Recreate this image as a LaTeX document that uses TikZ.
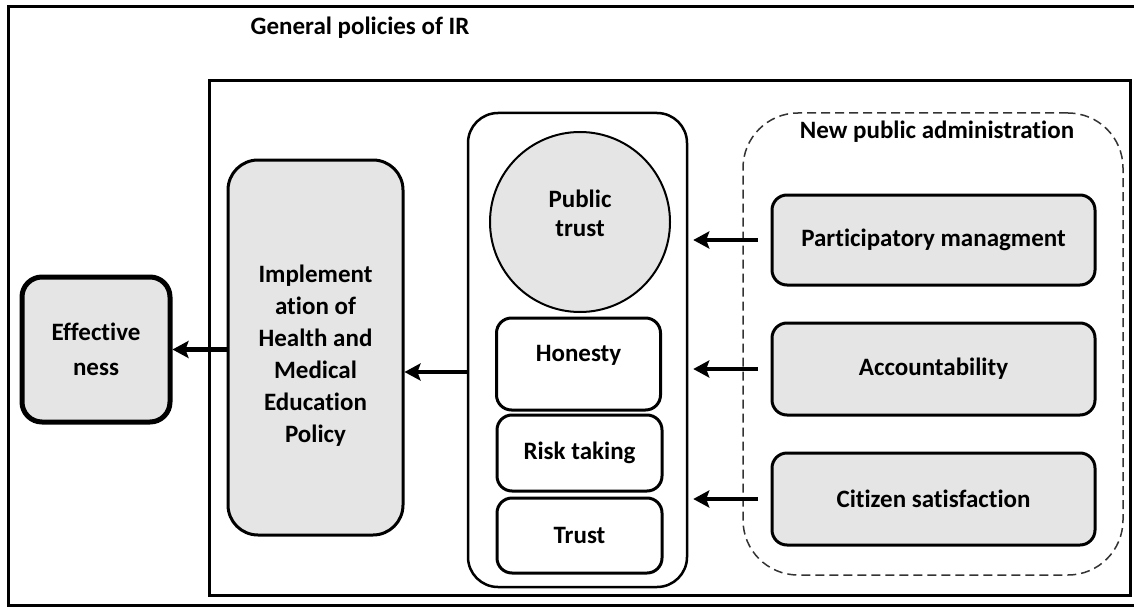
\documentclass[tikz,border=0pt]{standalone}
\usepackage{fontspec}
\setmainfont{Carlito}[Ligatures=NoCommon]
\usetikzlibrary{arrows.meta}

\begin{document}
\begin{tikzpicture}[x=1pt,y=-1pt,
  every node/.style={font=\bfseries\fontsize{25}{32}\selectfont, align=center},
  graybox/.style={draw, fill=gray!20, rounded corners=15pt, line width=3pt},
  whitebox/.style={draw, fill=white, rounded corners=15pt, line width=3pt},
  arr/.style={line width=4.5pt, -{Stealth[length=16pt,width=17pt,inset=3pt]}}]
\useasboundingbox (0,0) rectangle (1134,607);
% frames
\draw[line width=3pt] (1134,7) -- (8,7) -- (8,605) -- (1134,605);
\draw[line width=3pt] (209,81) rectangle (1130,595);
\node (title) at (360,28) {General policies of IR};
% new public administration
\node (npa) at (933,344) [draw=black!80, line width=1.5pt, dash pattern=on 9pt off 5pt, rounded corners=55pt, minimum width=380pt, minimum height=462pt] {};
\node (npatitle) at (937,132) {New public administration};
\node (part) at (933.5,240) [graybox, minimum width=323pt, minimum height=90pt] {Participatory managment};
\node (acc) at (933.5,369) [graybox, minimum width=323pt, minimum height=92pt] {Accountability};
\node (cit) at (933.5,499) [graybox, minimum width=323pt, minimum height=92pt] {Citizen satisfaction};
% trust
\node (mid) at (577.5,350) [draw, line width=2.5pt, rounded corners=30pt, minimum width=219pt, minimum height=474pt] {};
\node (pub) at (580,222) [circle, draw, fill=gray!20, line width=2pt, minimum size=180pt] {Public\\[-3pt]trust\\[-14pt]};
\node (hon) at (578.5,364) [whitebox, minimum width=164pt, minimum height=92pt] {Honesty\\[-10pt]};
\node (risk) at (579.5,453) [whitebox, minimum width=165pt, minimum height=76pt] {Risk taking};
\node (tru) at (579.5,535.5) [whitebox, minimum width=165pt, minimum height=75pt] {Trust};
% policy and outcome
\node (impl) at (315.5,347.5) [graybox, rounded corners=30pt, minimum width=175pt, minimum height=375pt] {\\[2pt]Implement\\ation of\\Health and\\Medical\\Education\\Policy};
\node (eff) at (96,349.5) [graybox, rounded corners=20pt, line width=5pt, minimum width=148pt, minimum height=145pt] {Effective\\[3pt]ness};
% arrows
\draw[arr] (impl.west |- eff.east) -- (eff.east);
\draw[arr] ([yshift=-22pt]mid.west) -- ([yshift=-22pt]mid.west -| impl.east);
\foreach \b in {part,acc,cit}
  \draw[arr, shorten <=13pt, shorten >=5pt] (\b.west) -- (\b.west -| mid.east);
\end{tikzpicture}
\end{document}
